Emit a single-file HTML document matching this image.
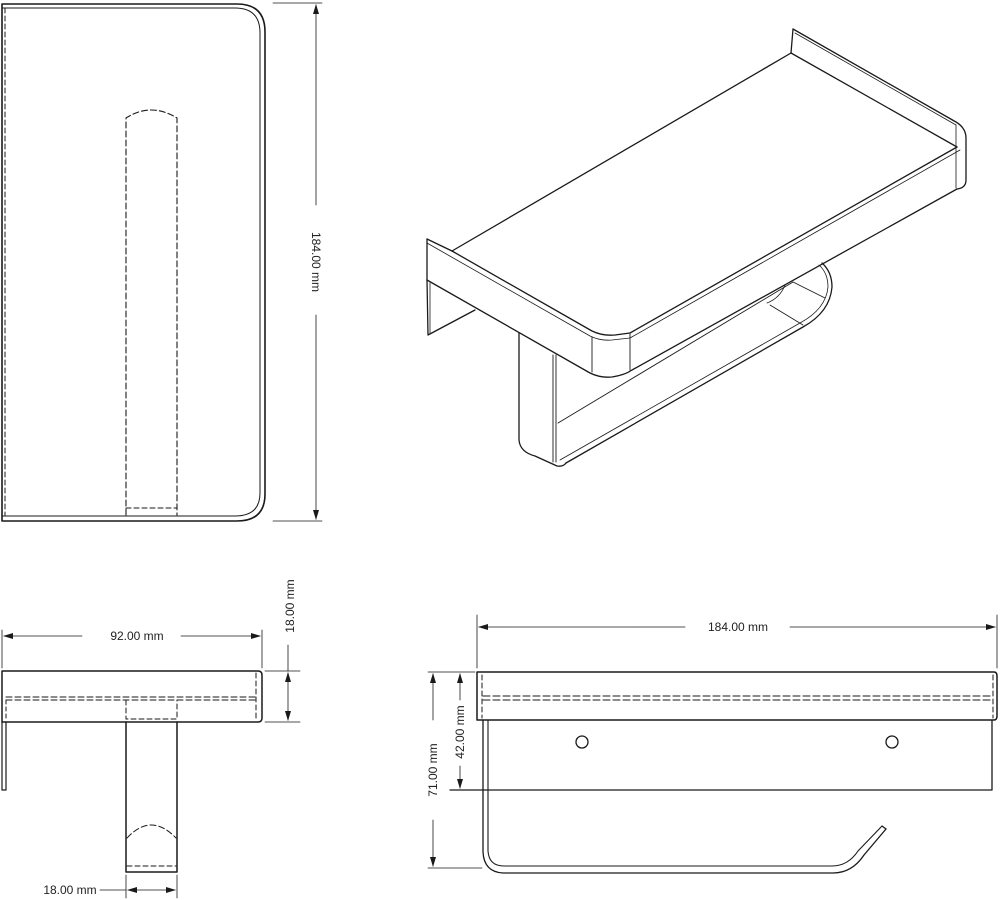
<!DOCTYPE html>
<html><head><meta charset="utf-8"><style>
html,body{margin:0;padding:0;background:#fff;width:1000px;height:900px;overflow:hidden}
svg{display:block}
text{font-family:"Liberation Sans",sans-serif;font-size:12px;fill:#222}
</style></head><body>
<svg width="1000" height="900" viewBox="0 0 1000 900" fill="none" stroke="#1a1a1a" stroke-width="1.4" stroke-linejoin="round" stroke-linecap="round">
<defs>
<marker id="a" markerWidth="10" markerHeight="6" refX="9" refY="3" orient="auto-start-reverse" markerUnits="userSpaceOnUse"><path d="M0,0 L10,3 L0,6 z" fill="#1a1a1a" stroke="none"/></marker>
</defs>

<!-- TOP LEFT VIEW -->
<path d="M2,4 H237 Q265,4 265,32 V494 Q265,521 237,521 H2 Z" stroke-width="1.6"/>
<path d="M2,8 H235 Q260,8 260,33 V493 Q260,516 235,516 H2" stroke-width="1"/>
<line x1="5" y1="8" x2="5" y2="516" stroke-dasharray="5,3" stroke-width="1"/>
<path d="M126,515 V118 Q151,102 177,118 V515" stroke-dasharray="6,3" stroke-width="1.1"/>
<line x1="126" y1="508" x2="177" y2="508" stroke-dasharray="5,3" stroke-width="1"/>
<line x1="273" y1="3" x2="322" y2="3" stroke-width="0.8"/>
<line x1="273" y1="521" x2="322" y2="521" stroke-width="0.8"/>
<line x1="316" y1="5" x2="316" y2="205" stroke-width="0.8" marker-start="url(#a)"/>
<line x1="316" y1="315" x2="316" y2="519" stroke-width="0.8" marker-end="url(#a)"/>
<text x="312" y="262" text-anchor="middle" transform="rotate(90 312 262)" stroke="none">184.00 mm</text>

<!-- ISO VIEW -->
<g stroke-width="1.3">
<path d="M793,29 L956,122 Q966,128 966,138 V180 Q966,188 957,189"/>
<line x1="793" y1="29" x2="791" y2="53"/>
<line x1="795" y1="33" x2="956" y2="125" stroke-width="0.8"/>
<line x1="956" y1="125" x2="956" y2="188" stroke-width="0.8"/>
<line x1="791" y1="53" x2="452" y2="251"/>
<line x1="791" y1="53" x2="957" y2="147"/>
<path d="M427,239 L452,251"/>
<path d="M427,239 V280"/>
<path d="M427,280 L428,335 L475,310"/>
<line x1="430" y1="283" x2="430" y2="333" stroke-width="0.8"/>
<path d="M452,251 L592,331 Q602,336 615,335 L630,333 L957,147"/>
<path d="M427,243 L590,336 Q600,341 612,340 L630,338 L960,150" stroke-width="0.8"/>
<path d="M427,280 L590,373 Q600,378 612,377 Q625,375 632,370 L957,189"/>
<line x1="592" y1="337" x2="592" y2="372" stroke-width="0.9"/>
<line x1="630" y1="334" x2="630" y2="370" stroke-width="0.9"/>
<path d="M519,333 V440 Q520,452 535,456 L557,466 Q563,467 566,463"/>
<line x1="553" y1="355" x2="553" y2="462" stroke-width="0.9"/>
<line x1="556" y1="355" x2="556" y2="462" stroke-width="0.9"/>
<path d="M566,463 L803,327 Q830,312 832,287 Q832,272 822,263"/>
<path d="M560,460 L800,323 Q826,309 828,287 Q828,273 819,265" stroke-width="0.8"/>
<line x1="558" y1="423" x2="793" y2="282" stroke-width="0.9"/>
<line x1="770" y1="305" x2="803" y2="325" stroke-width="0.8"/>
<line x1="793" y1="282" x2="825" y2="298" stroke-width="0.8"/>
<path d="M785,285 Q780,298 767,303" stroke-width="0.8"/>
</g>

<!-- BOTTOM LEFT VIEW -->
<path d="M2,671 H258 Q262,671 262,675 V718 Q262,722 258,722 H2 Z" stroke-width="1.5"/>
<line x1="6" y1="697" x2="256" y2="697" stroke-dasharray="6,3" stroke-width="1"/>
<line x1="6" y1="700" x2="256" y2="700" stroke-dasharray="6,3" stroke-width="1"/>
<line x1="6" y1="700" x2="6" y2="720" stroke-dasharray="4,3" stroke-width="1"/>
<line x1="256" y1="673" x2="256" y2="720" stroke-dasharray="5,3" stroke-width="1"/>
<path d="M2,722 V790 H6 V722" stroke-width="1.2"/>
<path d="M126,722 V872 H177 V722" stroke-width="1.5"/>
<path d="M126,700 V719 H177 V700" stroke-dasharray="5,3" stroke-width="1"/>
<path d="M127,838 Q151,812 176,838" stroke-dasharray="6,3" stroke-width="1"/>
<line x1="127" y1="866" x2="176" y2="866" stroke-dasharray="5,3" stroke-width="1"/>
<line x1="2" y1="630" x2="2" y2="668" stroke-width="0.8"/>
<line x1="262" y1="630" x2="262" y2="668" stroke-width="0.8"/>
<line x1="4" y1="636" x2="82" y2="636" stroke-width="0.8" marker-start="url(#a)"/>
<line x1="181" y1="636" x2="260" y2="636" stroke-width="0.8" marker-end="url(#a)"/>
<text x="137" y="640" text-anchor="middle" stroke="none">92.00 mm</text>
<line x1="265" y1="671" x2="300" y2="671" stroke-width="0.8"/>
<line x1="265" y1="722" x2="300" y2="722" stroke-width="0.8"/>
<line x1="288" y1="645" x2="288" y2="671" stroke-width="0.8"/>
<line x1="288" y1="673" x2="288" y2="720" stroke-width="0.8" marker-start="url(#a)" marker-end="url(#a)"/>
<text x="290" y="606" text-anchor="middle" transform="rotate(-90 290 606)" stroke="none" dy="4">18.00 mm</text>
<line x1="126" y1="875" x2="126" y2="898" stroke-width="0.8"/>
<line x1="177" y1="875" x2="177" y2="898" stroke-width="0.8"/>
<line x1="100" y1="890" x2="126" y2="890" stroke-width="0.8"/>
<line x1="128" y1="890" x2="175" y2="890" stroke-width="0.8" marker-start="url(#a)" marker-end="url(#a)"/>
<text x="70" y="894" text-anchor="middle" stroke="none">18.00 mm</text>

<!-- BOTTOM RIGHT VIEW -->
<path d="M477,672 H994 Q997,672 997,676 V716 Q997,720 994,720 H477 Z" stroke-width="1.5"/>
<line x1="483" y1="696" x2="993" y2="696" stroke-dasharray="7,3" stroke-width="1"/>
<line x1="483" y1="700" x2="993" y2="700" stroke-dasharray="7,3" stroke-width="1"/>
<line x1="482" y1="675" x2="482" y2="718" stroke-dasharray="5,3" stroke-width="1"/>
<line x1="993" y1="675" x2="993" y2="718" stroke-dasharray="5,3" stroke-width="1"/>
<path d="M992,720 V790 H450" stroke-width="1.3"/>
<circle cx="582" cy="742" r="6" stroke-width="1.3"/>
<circle cx="892" cy="742" r="6" stroke-width="1.3"/>
<path d="M483,720 V852 Q484,872 503,873 H833 Q852,873 864,855 L886,829" stroke-width="1.3"/>
<path d="M488,720 V851 Q489,866 504,866 H832 Q848,866 858,851 L882,826" stroke-width="1.1"/>
<line x1="882" y1="826" x2="886" y2="829" stroke-width="1.3"/>
<line x1="477" y1="615" x2="477" y2="668" stroke-width="0.8"/>
<line x1="997" y1="615" x2="997" y2="668" stroke-width="0.8"/>
<line x1="479" y1="627" x2="685" y2="627" stroke-width="0.8" marker-start="url(#a)"/>
<line x1="790" y1="627" x2="995" y2="627" stroke-width="0.8" marker-end="url(#a)"/>
<text x="738" y="631" text-anchor="middle" stroke="none">184.00 mm</text>
<line x1="428" y1="672" x2="475" y2="672" stroke-width="0.8"/>
<line x1="428" y1="868" x2="482" y2="868" stroke-width="0.8"/>
<line x1="433" y1="674" x2="433" y2="720" stroke-width="0.8" marker-start="url(#a)"/>
<line x1="433" y1="820" x2="433" y2="866" stroke-width="0.8" marker-end="url(#a)"/>
<text x="433" y="770" text-anchor="middle" transform="rotate(-90 433 770)" stroke="none" dy="4">71.00 mm</text>
<line x1="460" y1="674" x2="460" y2="700" stroke-width="0.8" marker-start="url(#a)"/>
<line x1="460" y1="766" x2="460" y2="788" stroke-width="0.8" marker-end="url(#a)"/>
<text x="460" y="732" text-anchor="middle" transform="rotate(-90 460 732)" stroke="none" dy="4">42.00 mm</text>
</svg>
</body></html>
